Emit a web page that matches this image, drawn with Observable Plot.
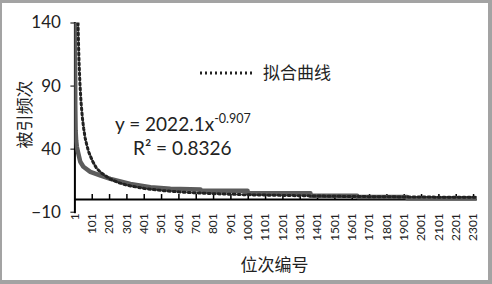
<!DOCTYPE html>
<html>
<head>
<meta charset="utf-8">
<script src="https://cdn.jsdelivr.net/npm/d3@7"></script>
<script src="https://cdn.jsdelivr.net/npm/@observablehq/plot@0.6"></script>
<style>
  html, body { margin: 0; padding: 0; background: #fff; }
  #wrap { position: relative; width: 492px; height: 284px; overflow: hidden; font-family: Lato, "Noto Sans CJK SC", sans-serif; color: #222; }
  #border { position: absolute; left: 0; top: 0; right: 0; bottom: 0; box-sizing: border-box;
            border-style: solid; border-color: #a3a3a3; border-width: 3px 4px 4px 2px; pointer-events: none; }
  .lab { position: absolute; white-space: nowrap; line-height: 1; transform: translateY(-50%); font-size: 17px; }
  .eq { font-size: 19px; }
  .lab sup { font-size: 12.5px; vertical-align: 0; position: relative; top: -8px; }
</style>
</head>
<body>
<div id="wrap"></div>
<script>
// ---- data ----
const yTicks = [-10, 40, 90, 140];
const xTicks = [1, 101, 201, 301, 401, 501, 601, 701, 801, 901, 1001, 1101, 1201, 1301, 1401, 1501, 1601, 1701, 1801, 1901, 2001, 2101, 2201, 2301];

const obsRank  = [1, 2, 3, 5, 8, 12, 20, 32, 50, 90, 150, 206, 321, 437, 552, 726, 727, 997, 998, 1360, 1361, 1630, 1631, 1918, 1919, 2322];
const obsValue = [180, 110, 75, 55, 47, 42, 37, 30, 26, 22, 19, 16.4, 12.4, 9.8, 8.6, 8, 7, 7, 5, 5, 3, 3, 2, 2, 1, 1];

// fitted curve (dotted)
const fitRank  = [19, 22, 25, 30, 36, 44, 52, 60, 70, 80, 101, 125, 150, 201, 251, 301, 401, 501, 601, 701, 801, 1001, 1201, 1501, 1801, 2001, 2322];
const fitValue = [140, 123, 109, 92, 78, 65, 56, 49, 43, 38, 31, 25, 21.5, 16.5, 13.5, 11.4, 8.8, 7.2, 6.1, 5.3, 4.7, 3.8, 3.3, 2.6, 2.2, 2.0, 1.8];

const legendLabel = "拟合曲线";
const yLabel = "被引频次";
const xLabel = "位次编号";
const eqMain = "y = 2022.1x";
const eqExp = "-0.907";
const r2Text = "R² = 0.8326";

const obs = obsRank.map((r, i) => ({rank: r, value: obsValue[i]}));
const fit = fitRank.map((r, i) => ({rank: r, value: fitValue[i]}));

const chart = Plot.plot({
  width: 492,
  height: 284,
  marginLeft: 74.4,
  marginRight: 15.3,
  marginTop: 22.5,
  marginBottom: 72.3,
  x: {type: "linear", domain: [1, 2322]},
  y: {domain: [-10, 140]},
  style: {fontFamily: 'Lato, "Noto Sans CJK SC", sans-serif', fontSize: "17px", color: "#222", background: "white"},
  marks: [
    Plot.axisY(yTicks, {tickSize: 4, tickPadding: 10, fontSize: 17, label: null, stroke: "#000"}),
    Plot.axisX(xTicks, {tickRotate: -90, tickSize: 0, tickPadding: 1, fontSize: 12, label: null, tickFormat: d => String(d)}),
    Plot.ruleY([0], {stroke: "#000", strokeWidth: 2}),
    Plot.ruleX(xTicks.slice(1), {y1: 0, y2: 4, stroke: "#000", strokeWidth: 1.5}),
    Plot.frame({anchor: "left", stroke: "#000", strokeWidth: 2}),
    Plot.line(obs, {x: "rank", y: "value", stroke: "#5c5c5c", strokeWidth: 4.5, clip: true}),
    Plot.line(fit, {x: "rank", y: "value", stroke: "#222", strokeWidth: 3, strokeDasharray: "2,3", clip: true}),
    Plot.text([yLabel], {text: d => d, frameAnchor: "left", textAnchor: "middle", lineAnchor: "middle", dx: -49, dy: -3, rotate: -90, fontSize: 17, fill: "#222"}),
    Plot.text([xLabel], {text: d => d, frameAnchor: "bottom", textAnchor: "middle", lineAnchor: "middle", dx: -1.5, dy: 53, fontSize: 17, fill: "#222"})
  ]
});

const wrap = document.getElementById("wrap");
wrap.appendChild(chart);

function addLabel(html, left, top, cls) {
  const d = document.createElement("div");
  d.className = "lab" + (cls ? " " + cls : "");
  d.style.left = left + "px";
  d.style.top = top + "px";
  d.innerHTML = html;
  wrap.appendChild(d);
}
// legend
const ls = document.createElementNS("http://www.w3.org/2000/svg", "svg");
ls.setAttribute("width", 54); ls.setAttribute("height", 6);
ls.style.position = "absolute"; ls.style.left = "200px"; ls.style.top = "69.5px";
const ln = document.createElementNS("http://www.w3.org/2000/svg", "line");
ln.setAttribute("x1", 0); ln.setAttribute("x2", 54); ln.setAttribute("y1", 3); ln.setAttribute("y2", 3);
ln.setAttribute("stroke", "#222"); ln.setAttribute("stroke-width", 3); ln.setAttribute("stroke-dasharray", "2,3");
ls.appendChild(ln);
wrap.appendChild(ls);
addLabel(legendLabel, 263, 72);
addLabel(eqMain + "<sup>" + eqExp + "</sup>", 115, 124, "eq");
addLabel(r2Text, 133, 147, "eq");

const b = document.createElement("div");
b.id = "border";
wrap.appendChild(b);
</script>
</body>
</html>
